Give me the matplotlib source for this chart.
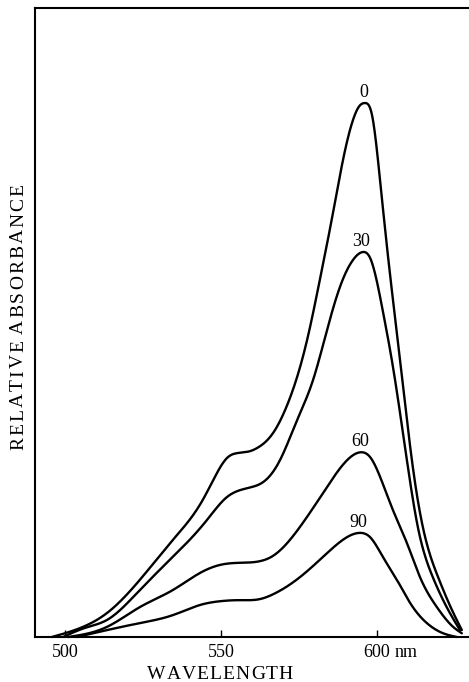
import numpy as np
import matplotlib
matplotlib.use("Agg")
import matplotlib.pyplot as plt

# ---- data ----
wl_0 = [495.8, 505.8, 513.5, 524.0, 534.6, 544.2, 548.7, 551.9, 556.1, 559.3, 561.9, 566.7,
        571.2, 577.6, 581.7, 585.9, 589.1, 592.3, 594.6, 596.2, 598.4, 601.0, 603.5, 607.4,
        611.2, 614.7, 619.6, 624.0, 627.2]
ab_0 = [0.0, 0.019, 0.045, 0.107, 0.182, 0.257, 0.307, 0.335, 0.345, 0.348, 0.355, 0.382,
        0.434, 0.556, 0.669, 0.794, 0.893, 0.968, 0.996, 1.0, 0.978, 0.855, 0.715, 0.519,
        0.331, 0.206, 0.112, 0.051, 0.013]

wl_30 = [499.4, 506.4, 513.5, 524.0, 534.6, 545.5, 551.9, 556.1, 559.3, 563.5, 568.9, 574.4,
         579.5, 584.0, 588.1, 592.3, 595.5, 597.8, 601.9, 605.1, 609.6, 613.1, 617.9,
         622.8, 626.6]
ab_30 = [0.0, 0.017, 0.032, 0.088, 0.150, 0.219, 0.262, 0.275, 0.280, 0.290, 0.331, 0.406,
         0.481, 0.575, 0.655, 0.706, 0.721, 0.710, 0.610, 0.507, 0.331, 0.206, 0.112,
         0.051, 0.013]

wl_60 = [501.0, 513.5, 524.0, 534.6, 543.3, 549.7, 556.1, 562.5, 566.7, 575.3, 584.0, 590.4,
         593.9, 595.2, 597.8, 601.0, 605.1, 609.6, 613.8, 619.2, 624.4, 627.2]
ab_60 = [0.0, 0.019, 0.056, 0.088, 0.120, 0.135, 0.139, 0.142, 0.152, 0.206, 0.281, 0.331,
         0.345, 0.346, 0.337, 0.300, 0.238, 0.176, 0.112, 0.056, 0.019, 0.007]

wl_90 = [503.8, 513.5, 524.0, 534.6, 543.3, 549.7, 556.1, 562.5, 566.7, 575.3, 584.0, 590.4,
         594.6, 597.8, 601.9, 606.4, 610.6, 616.0, 621.2, 625.6]
ab_90 = [0.0, 0.013, 0.026, 0.041, 0.060, 0.067, 0.069, 0.071, 0.080, 0.112, 0.157, 0.187,
         0.195, 0.187, 0.150, 0.107, 0.064, 0.026, 0.007, 0.0]

series_labels = ["0", "30", "60", "90"]
x_ticks = [500, 550, 600]
x_tick_labels = ["500", "550", "600"]
x_unit = "nm"
x_label = "WAVELENGTH"
y_label = "RELATIVE ABSORBANCE"

SERIF = ["Liberation Serif", "DejaVu Serif"]


def natural_spline(x, y, n=25):
    """Natural cubic spline through the read points (drawing only)."""
    x = np.asarray(x, float)
    y = np.asarray(y, float)
    N = len(x)
    h = np.diff(x)
    A = np.zeros((N, N))
    b = np.zeros(N)
    A[0, 0] = 1.0
    A[-1, -1] = 1.0
    for i in range(1, N - 1):
        A[i, i - 1] = h[i - 1]
        A[i, i] = 2 * (h[i - 1] + h[i])
        A[i, i + 1] = h[i]
        b[i] = 6 * ((y[i + 1] - y[i]) / h[i] - (y[i] - y[i - 1]) / h[i - 1])
    M = np.linalg.solve(A, b)
    xs, ys = [], []
    for i in range(N - 1):
        t = np.linspace(x[i], x[i + 1], n, endpoint=False)
        a = x[i + 1] - t
        c = t - x[i]
        s = (M[i] * a**3 + M[i + 1] * c**3) / (6 * h[i]) \
            + (y[i] / h[i] - M[i] * h[i] / 6) * a + (y[i + 1] / h[i] - M[i + 1] * h[i] / 6) * c
        xs.append(t)
        ys.append(s)
    xs.append([x[-1]])
    ys.append([y[-1]])
    return np.concatenate(xs), np.maximum(np.concatenate(ys), 0)


W, H = 469, 682
fig = plt.figure(figsize=(W / 100, H / 100), dpi=100)
ax = fig.add_axes([35 / W, 45 / H, 434 / W, 629 / H])
ax.set_xlim(490.4, 629.5)
ax.set_ylim(0, 1.178)

for wl, ab, lab in zip([wl_0, wl_30, wl_60, wl_90], [ab_0, ab_30, ab_60, ab_90], series_labels):
    xs, ys = natural_spline(wl, ab)
    ax.plot(xs, ys, color="black", lw=1.7, solid_capstyle="round", clip_on=False)
    i = int(np.argmax(ab))
    ax.annotate(lab, (wl[i], ab[i]), xytext=(-1, 4.5), textcoords="offset points",
                ha="center", va="baseline", fontsize=13, family=SERIF)

for s in ["left", "top", "bottom"]:
    ax.spines[s].set_linewidth(1.5)
ax.spines["right"].set_visible(False)
ax.set_yticks([])
ax.set_xticks(x_ticks)
ax.set_xticklabels(x_tick_labels, family=SERIF, fontsize=13)
ax.tick_params(axis="x", direction="in", length=5, width=1, pad=5)

# unit after last tick label
fig.canvas.draw()
r = fig.canvas.get_renderer()
last = ax.get_xticklabels()[-1]
bb = last.get_window_extent(r)
fig.text((bb.x1 + 4) / W, bb.y0 / H, x_unit, family=SERIF, fontsize=13, ha="left", va="bottom")


def spaced_text(s, cx, cy, size, spacing, vertical=False):
    """cx, cy in pixels (from bottom-left). Horizontal: cy is baseline; vertical: cx is baseline."""
    widths = []
    for ch in s:
        if ch == " ":
            t1 = fig.text(0, 0, "A A", fontsize=size, family=SERIF)
            t2 = fig.text(0, 0, "AA", fontsize=size, family=SERIF)
            w = t1.get_window_extent(r).width - t2.get_window_extent(r).width
            t1.remove(); t2.remove()
        else:
            t = fig.text(0, 0, ch, fontsize=size, family=SERIF)
            w = t.get_window_extent(r).width
            t.remove()
        widths.append(w)
    total = sum(widths) + spacing * (len(s) - 1)
    pos = -total / 2
    for ch, w in zip(s, widths):
        if vertical:
            fig.text(cx / W, (cy + pos) / H, ch, fontsize=size, family=SERIF, rotation=90,
                     rotation_mode="anchor", ha="left", va="baseline")
        else:
            fig.text((cx + pos) / W, cy / H, ch, fontsize=size, family=SERIF,
                     ha="left", va="baseline")
        pos += w + spacing


spaced_text(x_label, 220, H - 679, 14, 1.0)
spaced_text(y_label, 23, H - 317, 14, 2.0, vertical=True)

fig.savefig("out.png", dpi=100)
